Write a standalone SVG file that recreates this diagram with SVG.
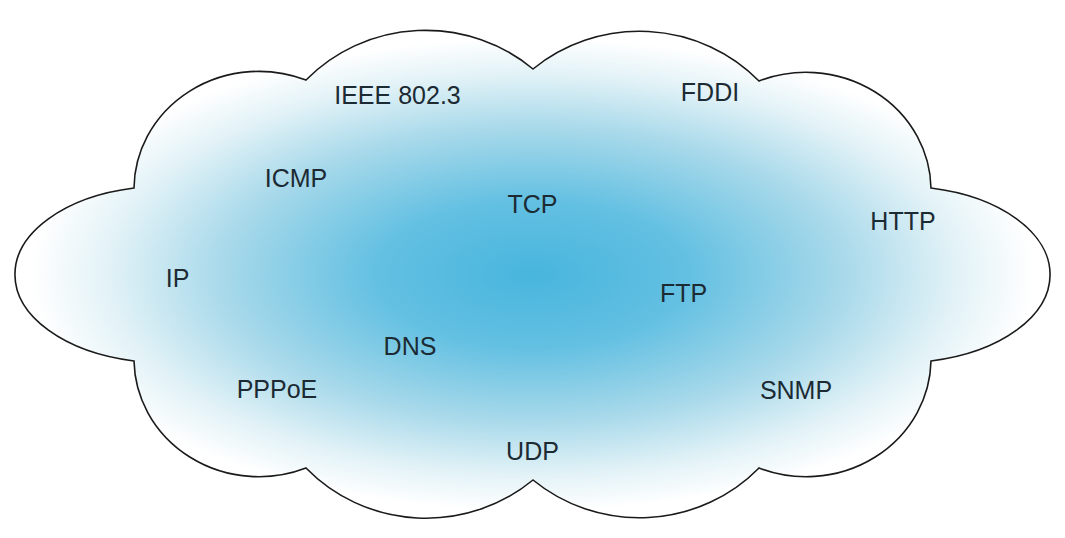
<svg xmlns="http://www.w3.org/2000/svg" width="1065" height="538" viewBox="0 0 1065 538">
  <defs>
    <radialGradient id="fill" cx="0.5" cy="0.5" r="0.5">
      <stop offset="0" stop-color="#48b5dd"/>
      <stop offset="0.3" stop-color="#63c0e2"/>
      <stop offset="0.6" stop-color="#a8d9ea"/>
      <stop offset="0.82" stop-color="#e2f2f7"/>
      <stop offset="0.97" stop-color="#ffffff"/>
    </radialGradient>
  </defs>
  <style>
    .cloud { fill: url(#fill); stroke: #1a1a1a; stroke-width: 1.6; stroke-linejoin: miter; }
    .lbl { font-family: "Liberation Sans", Arial, sans-serif; font-size: 25px; fill: #1c2a33; text-anchor: middle; }
  </style>
  <rect width="1065" height="538" fill="#ffffff"/>
  <g id="cloud">
    <path class="cloud" d="M134,188
      A125,118 0 0 1 306,80
      A165,160 0 0 1 533,69
      A165,160 0 0 1 759,81
      A125,118 0 0 1 931,188
      A150,88.4 0 0 1 931,361
      A125,118 0 0 1 759,468
      A165,160 0 0 1 533,480
      A165,160 0 0 1 306,468
      A125,118 0 0 1 134,361
      A150,88.4 0 0 1 134,188 Z"/>
  </g>
  <g id="labels">
    <g id="n-ieee"><text class="lbl" x="397.5" y="104">IEEE 802.3</text></g>
    <g id="n-fddi"><text class="lbl" x="710" y="101">FDDI</text></g>
    <g id="n-icmp"><text class="lbl" x="296" y="187">ICMP</text></g>
    <g id="n-tcp"><text class="lbl" x="532.5" y="213">TCP</text></g>
    <g id="n-http"><text class="lbl" x="903" y="230">HTTP</text></g>
    <g id="n-ip"><text class="lbl" x="177.5" y="287">IP</text></g>
    <g id="n-ftp"><text class="lbl" x="683.5" y="302">FTP</text></g>
    <g id="n-dns"><text class="lbl" x="410" y="355">DNS</text></g>
    <g id="n-pppoe"><text class="lbl" x="277" y="398">PPPoE</text></g>
    <g id="n-snmp"><text class="lbl" x="796" y="399">SNMP</text></g>
    <g id="n-udp"><text class="lbl" x="532.5" y="460">UDP</text></g>
  </g>
  <g id="connectors"></g>
</svg>
